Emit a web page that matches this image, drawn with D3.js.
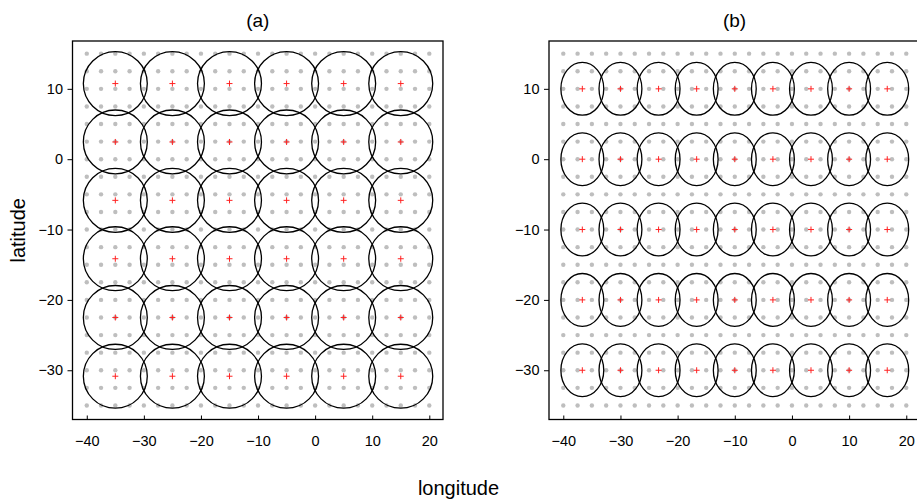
<!DOCTYPE html>
<meta charset="utf-8">
<style>

body { margin: 0; background: #fff; }

svg {
  display: block;
  font-family: "Liberation Sans", Arial, Helvetica, sans-serif;
}

.dot { fill: #bebebe; }

.ring {
  fill: none;
  stroke: #000;
  stroke-width: 1.3px;
}

.centre {
  stroke: #f22;
  stroke-width: 1px;
}

.frame {
  fill: none;
  stroke: #000;
  stroke-width: 1.3px;
}

.axis text { font-size: 14.5px; fill: #000; }
.axis line { stroke: #000; stroke-width: 1px; }

</style>

<body>
<script src="https://d3js.org/d3.v7.min.js"></script>
<script>
  // grid of data points (grey dots)
  var lonGrid = [-40, -37.5, -35, -32.5, -30, -27.5, -25, -22.5, -20, -17.5, -15, -12.5,
                 -10, -7.5, -5, -2.5, 0, 2.5, 5, 7.5, 10, 12.5, 15, 17.5, 20];
  var latGrid = [15, 12.5, 10, 7.5, 5, 2.5, 0, -2.5, -5, -7.5, -10, -12.5, -15, -17.5,
                 -20, -22.5, -25, -27.5, -30, -32.5, -35];

  // axis ticks
  var lonTicks = [-40, -30, -20, -10, 0, 10, 20];
  var latTicks = [10, 0, -10, -20, -30];

  // (a) circle centres
  var centreLonA = [-35, -25, -15, -5, 5, 15];
  var centreLatA = [10.75, 2.45, -5.85, -14.15, -22.5, -30.85];

  // (b) ellipse centres
  var centreLonB = [-36.67, -30, -23.33, -16.67, -10, -3.33, 3.33, 10, 16.67];
  var centreLatB = [10, 0, -10, -20, -30];

  var svg = d3.select("body").append("svg")
      .attr("width", 917)
      .attr("height", 502);

  var lonDomain = [-42.5, 22.4],
      latDomain = [-37, 16.8],
      plotTop = 41, plotBottom = 419.5;

  var y = d3.scaleLinear().domain(latDomain).range([plotBottom, plotTop]);

  function drawPanel(left, right, title, lons, lats, kind) {
    var x = d3.scaleLinear().domain(lonDomain).range([left, right]);
    var g = svg.append("g");

    // grey grid dots
    var pts = [];
    latGrid.forEach(function(la) {
      lonGrid.forEach(function(lo) { pts.push([lo, la]); });
    });
    g.selectAll(".dot")
        .data(pts)
      .enter().append("circle")
        .attr("class", "dot")
        .attr("cx", function(d) { return x(d[0]); })
        .attr("cy", function(d) { return y(d[1]); })
        .attr("r", 2.2);

    var centres = [];
    lats.forEach(function(la) {
      lons.forEach(function(lo) { centres.push([lo, la]); });
    });

    // circles / ellipses
    if (kind === "circle") {
      var r = x(5.6) - x(0);
      g.selectAll(".ring")
          .data(centres)
        .enter().append("circle")
          .attr("class", "ring")
          .attr("cx", function(d) { return x(d[0]); })
          .attr("cy", function(d) { return y(d[1]); })
          .attr("r", r);
    } else {
      var rx = x(3.75) - x(0), ry = y(0) - y(3.75);
      g.selectAll(".ring")
          .data(centres)
        .enter().append("ellipse")
          .attr("class", "ring")
          .attr("cx", function(d) { return x(d[0]); })
          .attr("cy", function(d) { return y(d[1]); })
          .attr("rx", rx)
          .attr("ry", ry);
    }

    // red + at each centre
    g.selectAll(".centre")
        .data(centres)
      .enter().append("path")
        .attr("class", "centre")
        .attr("d", function(d) {
          var cx = x(d[0]), cy = y(d[1]);
          return "M" + (cx - 3) + "," + cy + "H" + (cx + 3)
            + "M" + cx + "," + (cy - 3) + "V" + (cy + 3);
        });

    // frame
    g.append("rect")
        .attr("class", "frame")
        .attr("x", left)
        .attr("y", plotTop)
        .attr("width", right - left)
        .attr("height", plotBottom - plotTop);

    // axes
    var xa = g.append("g")
        .attr("class", "axis")
        .attr("transform", "translate(0," + plotBottom + ")")
        .call(d3.axisBottom(x).tickValues(lonTicks).tickSize(-4).tickPadding(0));
    xa.select(".domain").remove();
    xa.selectAll("text").attr("y", 16).attr("dy", "0.71em");

    var ya = g.append("g")
        .attr("class", "axis")
        .attr("transform", "translate(" + left + ",0)")
        .call(d3.axisLeft(y).tickValues(latTicks).tickSize(5).tickPadding(4.5));
    ya.select(".domain").remove();

    svg.append("text")
        .attr("x", (left + right) / 2)
        .attr("y", 26.5)
        .attr("text-anchor", "middle")
        .style("font-size", "19px")
        .text(title);
  }

  drawPanel(72.5, 443, "(a)", centreLonA, centreLatA, "circle");
  drawPanel(549, 920, "(b)", centreLonB, centreLatB, "ellipse");

  svg.append("text")
      .attr("transform", "translate(24.5," + (plotTop + plotBottom) / 2 + ") rotate(-90)")
      .attr("text-anchor", "middle")
      .style("font-size", "20px")
      .text("latitude");

  svg.append("text")
      .attr("x", 458.5)
      .attr("y", 494.5)
      .attr("text-anchor", "middle")
      .style("font-size", "20px")
      .text("longitude");
</script>
</body>
